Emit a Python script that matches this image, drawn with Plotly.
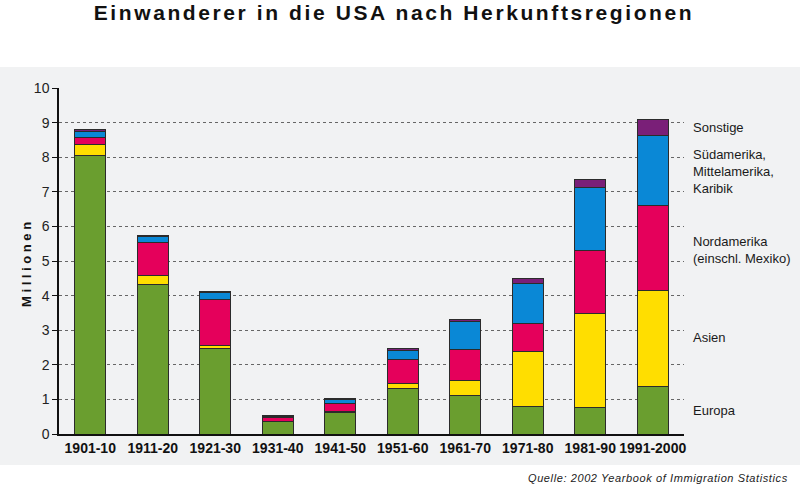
import plotly.graph_objects as go

decades = ["1901-10", "1911-20", "1921-30", "1931-40", "1941-50",
           "1951-60", "1961-70", "1971-80", "1981-90", "1991-2000"]

europa      = [8.06, 4.32, 2.46, 0.35, 0.62, 1.32, 1.12, 0.80, 0.76, 1.36]
asien       = [0.31, 0.25, 0.11, 0.02, 0.04, 0.13, 0.42, 1.58, 2.73, 2.79]
nordamerika = [0.21, 0.96, 1.33, 0.12, 0.23, 0.69, 0.89, 0.82, 1.81, 2.45]
sued        = [0.15, 0.19, 0.19, 0.03, 0.10, 0.28, 0.81, 1.16, 1.82, 2.03]
sonstige    = [0.07, 0.03, 0.02, 0.01, 0.04, 0.04, 0.06, 0.13, 0.23, 0.47]

series = [
    ("Europa", europa, "#6A9E2F"),
    ("Asien", asien, "#FFDE00"),
    ("Nordamerika (einschl. Mexiko)", nordamerika, "#E5005B"),
    ("Südamerika, Mittelamerika, Karibik", sued, "#0A88D6"),
    ("Sonstige", sonstige, "#7A1F78"),
]

legend_labels = ["Europa", "Asien", "Nordamerika<br>(einschl. Mexiko)",
                 "Südamerika,<br>Mittelamerika,<br>Karibik", "Sonstige"]
legend_y = [0.69, 2.78, 5.32, 7.58, 8.85]

y_ticks = list(range(0, 11))

fig = go.Figure()
for name, vals, col in series:
    fig.add_trace(go.Bar(
        x=decades, y=vals, name=name,
        marker=dict(color=col, line=dict(color="#2b2b2b", width=1)),
        width=0.5,
    ))

W, H = 800, 487
L, R, T, B = 59, 116, 88, 53
pw, ph = W - L - R, H - T - B

fig.update_layout(
    width=W, height=H,
    barmode="stack",
    showlegend=False,
    margin=dict(l=L, r=R, t=T, b=B, pad=0),
    paper_bgcolor="white",
    plot_bgcolor="rgba(0,0,0,0)",
    font=dict(family="Liberation Sans, Arial, sans-serif", color="#1a1a1a"),
    title=dict(
        text='<span style="letter-spacing:2.6px">Einwanderer in die USA nach Herkunftsregionen</span>',
        x=0.5 - 6 / W, xref="container", xanchor="center",
        y=1 - 13 / H, yref="container", yanchor="middle",
        font=dict(size=21, family="Liberation Sans, Arial, sans-serif", color="#111", weight="bold"),
    ),
    xaxis=dict(
        type="category",
        range=[-0.5, 9.5],
        showline=True, linecolor="#111", linewidth=1.5,
        ticks="", showgrid=False,
        tickfont=dict(size=14, color="#111", weight="bold"),
    ),
    yaxis=dict(
        range=[0, 10],
        tickvals=y_ticks,
        showline=True, linecolor="#111", linewidth=1.5,
        ticks="outside", ticklen=5, tickcolor="#111", tickwidth=1,
        showgrid=True, gridcolor="#666", griddash="dot", gridwidth=1,
        zeroline=False,
        tickfont=dict(size=14, color="#222"),
    ),
    shapes=[dict(
        type="rect", xref="paper", yref="paper", layer="below",
        x0=-L / pw, x1=(W - L) / pw,
        y0=(434 - 465) / ph, y1=(434 - 67) / ph,
        fillcolor="#F1F2F3", line=dict(width=0),
    )],
)

for lab, yv in zip(legend_labels, legend_y):
    fig.add_annotation(
        text=lab, xref="paper", yref="y",
        x=(691 - L) / pw, y=yv, xanchor="left", yanchor="middle",
        align="left", showarrow=False,
        font=dict(size=13, color="#1a1a1a"),
    )

fig.add_annotation(
    text='<span style="letter-spacing:3.6px">Millionen</span>',
    xref="paper", yref="paper",
    x=(26 - L) / pw, y=(434 - 263) / ph,
    xanchor="center", yanchor="middle", textangle=-90,
    showarrow=False, font=dict(size=13, color="#111", weight="bold"),
)

fig.add_annotation(
    text='<i><span style="letter-spacing:0.6px">Quelle: 2002 Yearbook of Immigration Statistics</span></i>',
    xref="paper", yref="paper",
    x=(790 - L) / pw, y=(434 - 478) / ph,
    xanchor="right", yanchor="middle", showarrow=False,
    font=dict(size=11, color="#222"),
)

fig.write_html("out.html", config={"displayModeBar": False},
               post_script="document.body.style.margin='0';document.body.style.overflow='hidden';")
